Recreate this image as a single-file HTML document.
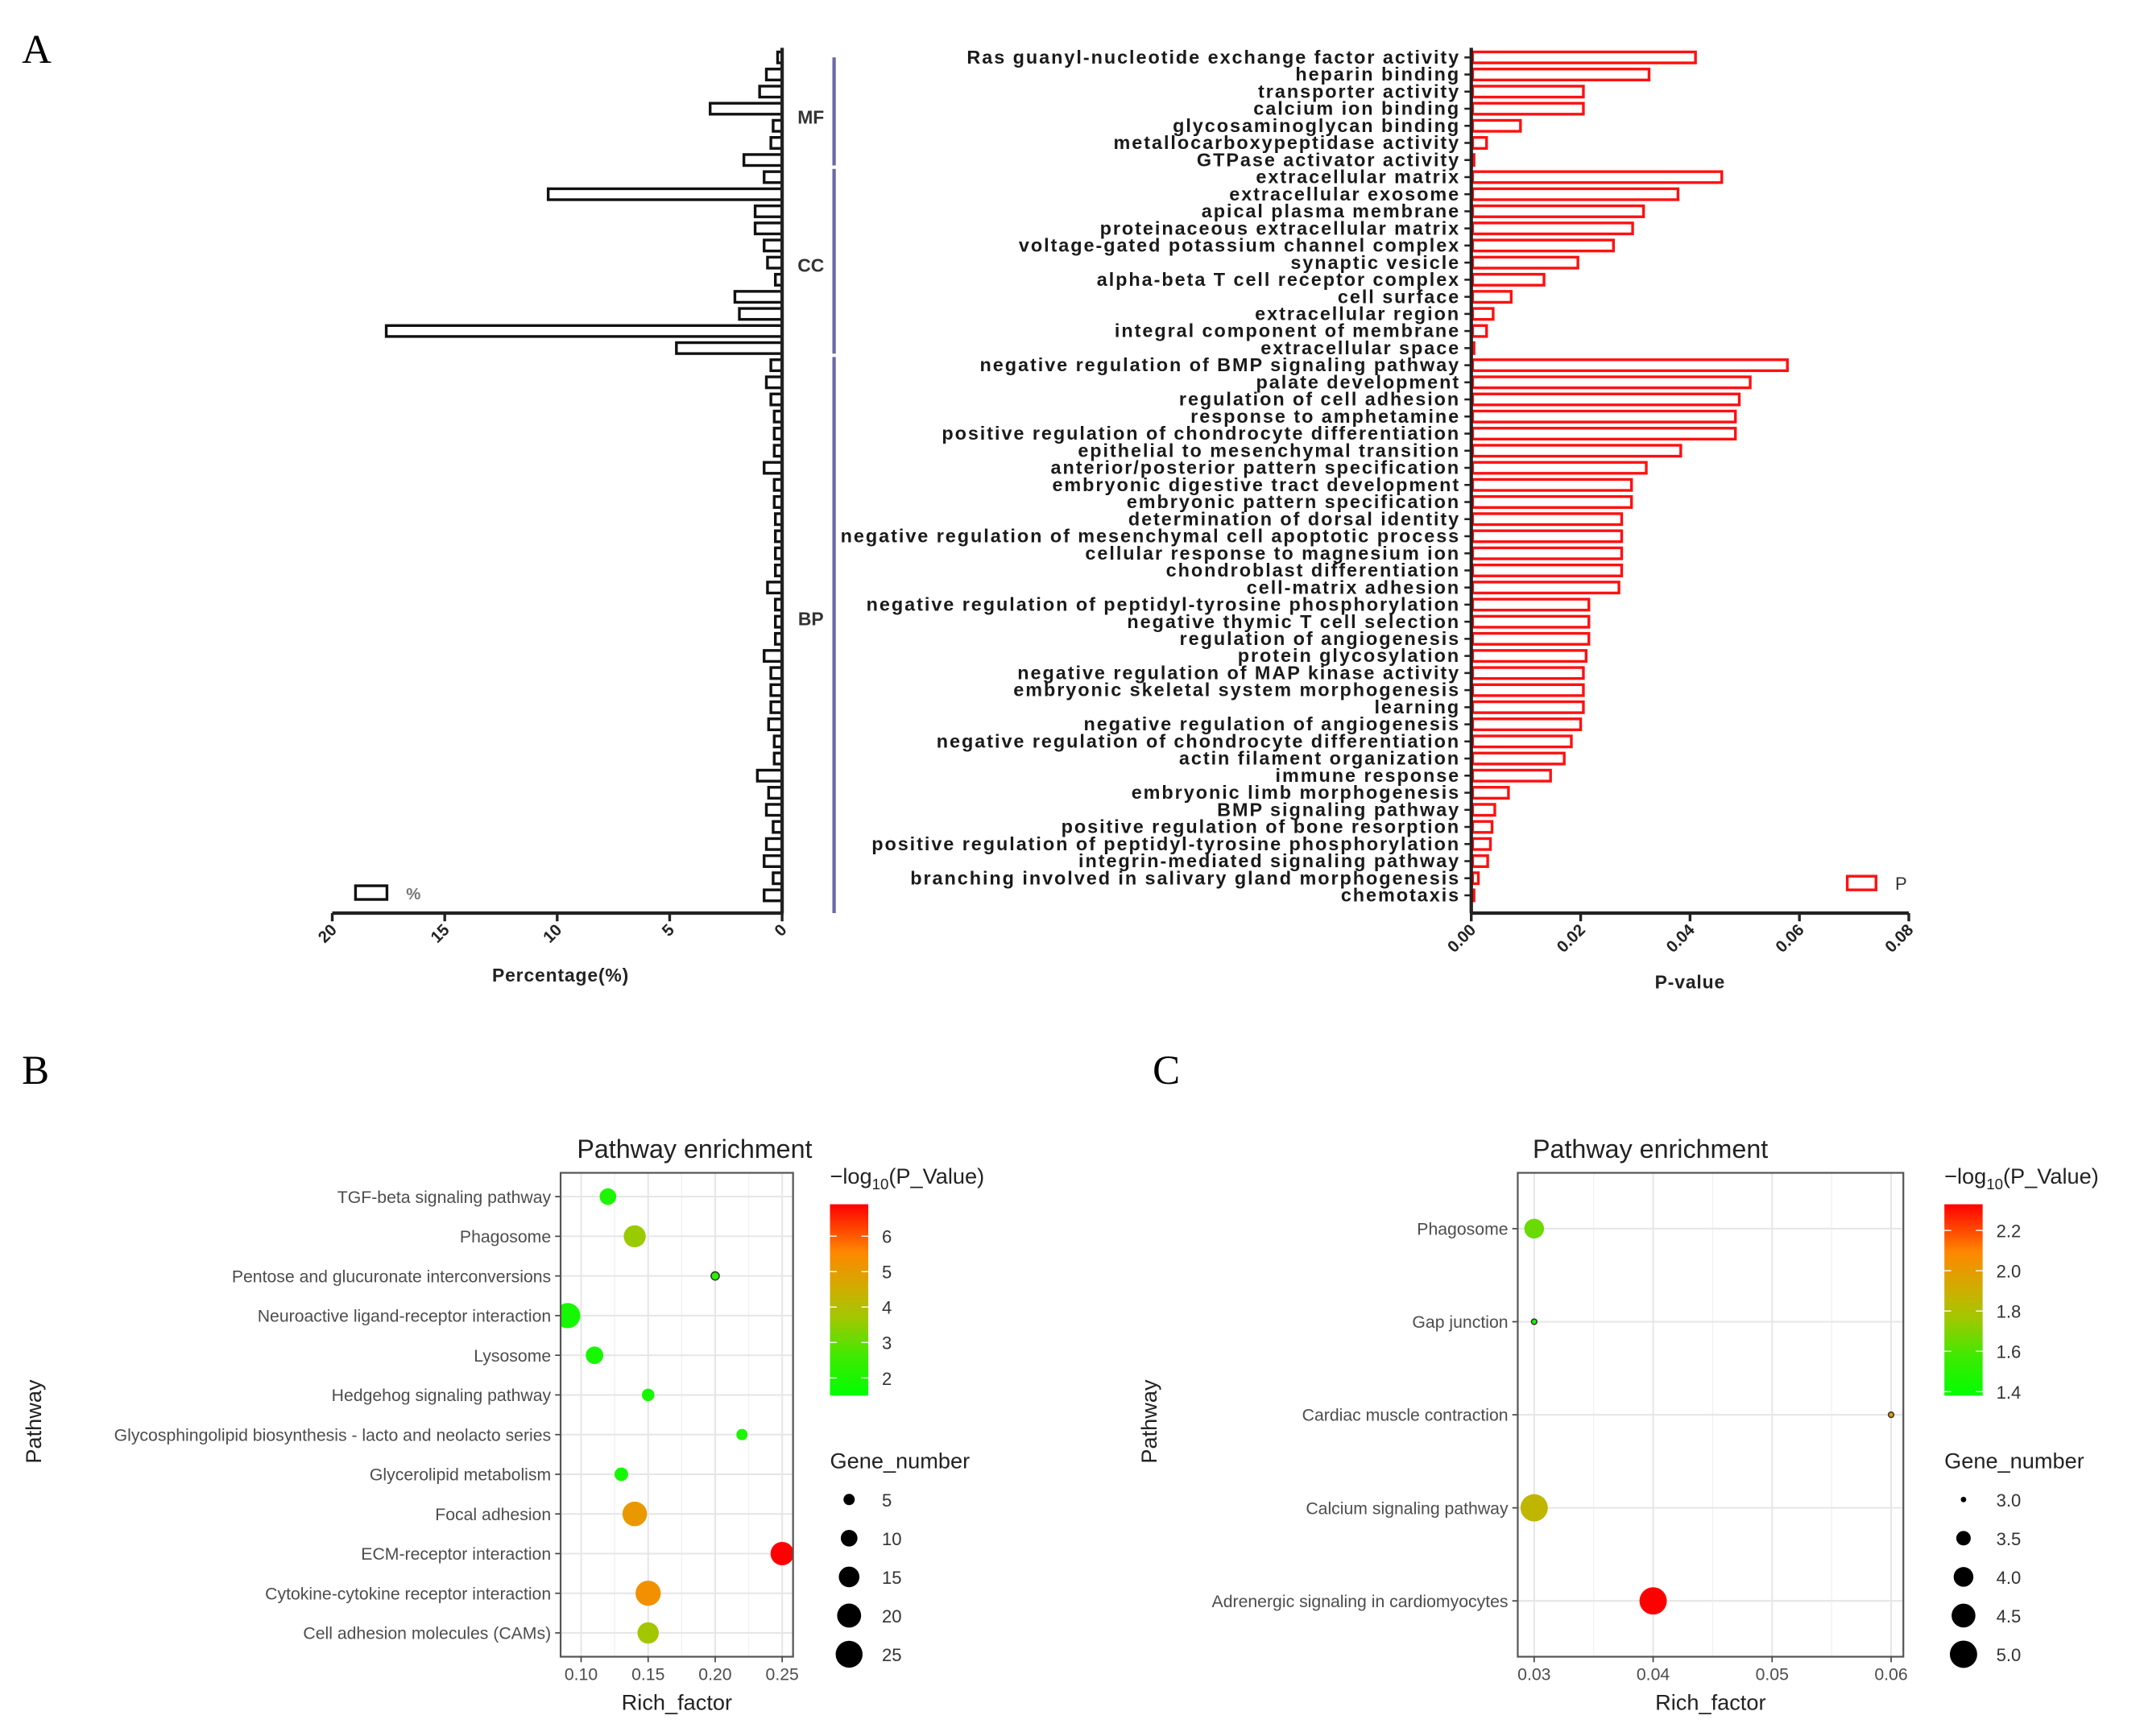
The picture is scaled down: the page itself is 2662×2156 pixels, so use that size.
<!DOCTYPE html>
<html><head><meta charset="utf-8"><style>
html,body{margin:0;padding:0;background:#fff}
svg{display:block}
</style></head><body>
<svg id="fig" xmlns="http://www.w3.org/2000/svg" width="2662" height="2156" viewBox="0 0 1568 1270" preserveAspectRatio="none" font-family="Liberation Sans, Arial, sans-serif">
<rect width="1568" height="1270" fill="#fff"/>
<text x="16" y="46" font-family="Liberation Serif, serif" font-size="30">A</text>
<text x="16" y="793" font-family="Liberation Serif, serif" font-size="30">B</text>
<text x="843" y="793" font-family="Liberation Serif, serif" font-size="30">C</text>
<g id="gA"></g><g id="gB"></g><g id="gC"></g>
</svg>
<script>
// ===== Panel A data =====
const goTerms = ["Ras guanyl-nucleotide exchange factor activity","heparin binding","transporter activity","calcium ion binding","glycosaminoglycan binding","metallocarboxypeptidase activity","GTPase activator activity","extracellular matrix","extracellular exosome","apical plasma membrane","proteinaceous extracellular matrix","voltage-gated potassium channel complex","synaptic vesicle","alpha-beta T cell receptor complex","cell surface","extracellular region","integral component of membrane","extracellular space","negative regulation of BMP signaling pathway","palate development","regulation of cell adhesion","response to amphetamine","positive regulation of chondrocyte differentiation","epithelial to mesenchymal transition","anterior/posterior pattern specification","embryonic digestive tract development","embryonic pattern specification","determination of dorsal identity","negative regulation of mesenchymal cell apoptotic process","cellular response to magnesium ion","chondroblast differentiation","cell-matrix adhesion","negative regulation of peptidyl-tyrosine phosphorylation","negative thymic T cell selection","regulation of angiogenesis","protein glycosylation","negative regulation of MAP kinase activity","embryonic skeletal system morphogenesis","learning","negative regulation of angiogenesis","negative regulation of chondrocyte differentiation","actin filament organization","immune response","embryonic limb morphogenesis","BMP signaling pathway","positive regulation of bone resorption","positive regulation of peptidyl-tyrosine phosphorylation","integrin-mediated signaling pathway","branching involved in salivary gland morphogenesis","chemotaxis"];
const goPct = [0.2,0.7,1.0,3.2,0.4,0.5,1.7,0.8,10.4,1.2,1.2,0.8,0.65,0.3,2.1,1.9,17.6,4.7,0.5,0.7,0.5,0.35,0.35,0.35,0.8,0.35,0.35,0.3,0.3,0.3,0.3,0.65,0.3,0.3,0.3,0.8,0.5,0.5,0.5,0.6,0.35,0.35,1.1,0.6,0.7,0.4,0.7,0.8,0.4,0.8];
const goP = [0.041,0.0325,0.0205,0.0205,0.009,0.0028,0.0003,0.0458,0.0378,0.0315,0.0295,0.026,0.0195,0.0133,0.0073,0.004,0.0028,0.0003,0.0578,0.051,0.049,0.0483,0.0483,0.0383,0.032,0.0293,0.0293,0.0275,0.0275,0.0275,0.0275,0.027,0.0215,0.0215,0.0215,0.021,0.0205,0.0205,0.0205,0.02,0.0183,0.017,0.0145,0.0068,0.0043,0.0038,0.0035,0.003,0.0013,0.0003];
const pctTicks = [20,15,10,5,0];
const pTicks = [0,0.02,0.04,0.06,0.08];
const pTickLabels = ["0.00","0.02","0.04","0.06","0.08"];
const groups = ["MF","CC","BP"];
const groupSizes = [7,11,32];

// ===== Panel B data =====
const bPathways = ["TGF-beta signaling pathway","Phagosome","Pentose and glucuronate interconversions","Neuroactive ligand-receptor interaction","Lysosome","Hedgehog signaling pathway","Glycosphingolipid biosynthesis - lacto and neolacto series","Glycerolipid metabolism","Focal adhesion","ECM-receptor interaction","Cytokine-cytokine receptor interaction","Cell adhesion molecules (CAMs)"];
const bRich = [0.12,0.14,0.20,0.09,0.11,0.15,0.22,0.13,0.14,0.25,0.15,0.15];
const bGenes = [10,17,3,22,11,6,5,7,21,19,22,16];
const bLogP = [2.0,3.6,2.2,1.9,1.9,1.9,2.0,1.9,5.1,6.9,5.3,3.7];
const bXTicks = [0.10,0.15,0.20,0.25];
const bColorTicks = [2,3,4,5,6];
const bSizeTicks = [5,10,15,20,25];

// ===== Panel C data =====
const cPathways = ["Phagosome","Gap junction","Cardiac muscle contraction","Calcium signaling pathway","Adrenergic signaling in cardiomyocytes"];
const cRich = [0.03,0.03,0.06,0.03,0.04];
const cGenes = [4,3,3,5,5];
const cLogP = [1.66,1.42,2.0,1.86,2.33];
const cXTicks = [0.03,0.04,0.05,0.06];
const cColorTicks = [1.4,1.6,1.8,2.0,2.2];
const cSizeTicks = [3.0,3.5,4.0,4.5,5.0];

const NS='http://www.w3.org/2000/svg';
function mk(parent,tag,attrs,text){const e=document.createElementNS(NS,tag);for(const k in attrs)e.setAttribute(k,attrs[k]);if(text!==undefined)e.textContent=text;parent.appendChild(e);return e;}

// ---------- Panel A ----------
(function(){
  const g=document.getElementById('gA');
  const y0=42, dy=(655-42)/49, axY=668;
  const rowY=i=>y0+i*dy;
  const xL=v=>572-v*(572-243)/20;
  const xP=v=>1076+v*(1396-1076)/0.08;
  const bh=8;
  goPct.forEach((v,i)=>{
    const r=mk(g,'rect',{x:xL(v),y:rowY(i)-bh/2,width:Math.max(xL(0)-xL(v),1.5),height:bh,fill:'#fff',stroke:'#111','stroke-width':2});
    
    
  });
  mk(g,'line',{x1:572,y1:35,x2:572,y2:axY,stroke:'#222','stroke-width':2.5});
  mk(g,'line',{x1:243,y1:axY,x2:573,y2:axY,stroke:'#222','stroke-width':2.5});
  pctTicks.forEach(t=>{
    mk(g,'line',{x1:xL(t),y1:axY,x2:xL(t),y2:axY+6,stroke:'#222','stroke-width':2});
    const tx=mk(g,'text',{x:xL(t)+4,y:axY+13,'font-size':12,'font-weight':'bold','text-anchor':'end',fill:'#222',transform:`rotate(-45 ${xL(t)+4} ${axY+13})`},String(t));
    
    
  });
  const lt=mk(g,'text',{x:410,y:718,'font-size':13.5,'font-weight':'bold','text-anchor':'middle',fill:'#222','letter-spacing':0.5},'Percentage(%)');
  
  const lr=mk(g,'rect',{x:260,y:648,width:23,height:10,fill:'#fff',stroke:'#111','stroke-width':2});
  
  const ll=mk(g,'text',{x:297,y:658,'font-size':12,fill:'#777','font-weight':'bold'},'%');
  
  const labelFrac=[0.55,0.52,0.47];
  let start=0;
  groups.forEach((name,gi)=>{
    const n=groupSizes[gi];
    const ya=rowY(start)-(gi===0?0:6), yb=(gi===groups.length-1)?axY:rowY(start+n-1)+4;
    const ln=mk(g,'line',{x1:610,y1:ya,x2:610,y2:yb,stroke:'#6a6aa8','stroke-width':2.5});
    
    const tx=mk(g,'text',{x:593,y:ya+(yb-ya)*labelFrac[gi]+5,'font-size':13.5,'font-weight':'bold','text-anchor':'middle',fill:'#333'},name);
    
    start+=n;
  });
  const clip=mk(g,'clipPath',{id:'clipA'});mk(clip,'rect',{x:614,y:0,width:800,height:700});
  const lab=mk(g,'g',{'clip-path':'url(#clipA)'});
  goTerms.forEach((t,i)=>{
    const tx=mk(lab,'text',{x:1068,y:rowY(i)+4.5,'font-size':13.8,'font-weight':'bold','text-anchor':'end',fill:'#1a1a1a','letter-spacing':1.15},t);
    
    mk(g,'line',{x1:1071,y1:rowY(i),x2:1076,y2:rowY(i),stroke:'#222','stroke-width':1.5});
  });
  goP.forEach((v,i)=>{
    const r=mk(g,'rect',{x:1077,y:rowY(i)-bh/2,width:Math.max(xP(v)-1077,1),height:bh,fill:'#fff',stroke:'#ff1010','stroke-width':2});
    
  });
  mk(g,'line',{x1:1076,y1:35,x2:1076,y2:axY,stroke:'#222','stroke-width':2.5});
  mk(g,'line',{x1:1075,y1:axY,x2:1396,y2:axY,stroke:'#222','stroke-width':2.5});
  pTicks.forEach((t,i)=>{
    mk(g,'line',{x1:xP(t),y1:axY,x2:xP(t),y2:axY+6,stroke:'#222','stroke-width':2});
    const tx=mk(g,'text',{x:xP(t)+4,y:axY+13,'font-size':12,'font-weight':'bold','text-anchor':'end',fill:'#222',transform:`rotate(-45 ${xP(t)+4} ${axY+13})`},pTickLabels[i]);
    
  });
  const pt=mk(g,'text',{x:1236,y:723,'font-size':13.5,'font-weight':'bold','text-anchor':'middle',fill:'#222','letter-spacing':0.5},'P-value');
  
  const pr=mk(g,'rect',{x:1351,y:641,width:21,height:10,fill:'#fff',stroke:'#ff1010','stroke-width':2});
  
  const pl=mk(g,'text',{x:1386,y:651,'font-size':13,fill:'#333'},'P');
  
})();

const stops=[[0,[0,255,0]],[0.2,[60,235,0]],[0.4,[160,200,0]],[0.55,[205,175,0]],[0.75,[255,135,0]],[1,[255,0,0]]];
function grad(t){t=Math.max(0,Math.min(1,t));for(let i=1;i<stops.length;i++){if(t<=stops[i][0]){const a=stops[i-1],b=stops[i];const f=(t-a[0])/(b[0]-a[0]);const c=a[1].map((v,k)=>Math.round(v+(b[1][k]-v)*f));return `rgb(${c})`;}}return 'rgb(255,0,0)';}

function bubble(gid,cfg){
  const g=document.getElementById(gid);
  const {px0,px1,py0,py1,xmin,xmax,cats,rich,genes,logp,xticks,xfmt,cmin,cmax,cticks,cfmt,sizeTicks,sizeFmt,rad,legX,title,titleX,ylabX,prefix}=cfg;
  const sx=v=>px0+(v-xmin)/(xmax-xmin)*(px1-px0);
  const n=cats.length;
  const sy=i=>py0+(py1-py0)*(i+0.6)/(n+0.2);
  mk(g,'rect',{x:px0,y:py0,width:px1-px0,height:py1-py0,fill:'#fff'});
  for(let i=0;i<xticks.length-1;i++){const m=(xticks[i]+xticks[i+1])/2;mk(g,'line',{x1:sx(m),y1:py0,x2:sx(m),y2:py1,stroke:'#f2f2f2','stroke-width':0.8});}
  const step=xticks[1]-xticks[0];
  [xticks[0]-step/2,xticks[xticks.length-1]+step/2].forEach(m=>{if(sx(m)>px0&&sx(m)<px1)mk(g,'line',{x1:sx(m),y1:py0,x2:sx(m),y2:py1,stroke:'#f2f2f2','stroke-width':0.8});});
  xticks.forEach(t=>{mk(g,'line',{x1:sx(t),y1:py0,x2:sx(t),y2:py1,stroke:'#e6e6e6','stroke-width':1.2});});
  cats.forEach((c,i)=>{
    mk(g,'line',{x1:px0,y1:sy(i),x2:px1,y2:sy(i),stroke:'#e6e6e6','stroke-width':1.2});
    mk(g,'line',{x1:px0-4,y1:sy(i),x2:px0,y2:sy(i),stroke:'#444','stroke-width':1});
    const tx=mk(g,'text',{x:px0-7,y:sy(i)+4.5,'font-size':12.5,'text-anchor':'end',fill:'#4d4d4d'},c);
    
  });
  const cl=mk(g,'clipPath',{id:'clip'+gid});mk(cl,'rect',{x:px0,y:py0,width:px1-px0,height:py1-py0});
  const pg=mk(g,'g',{'clip-path':`url(#clip${gid})`});
  const gmin=Math.min(...genes);
  rich.forEach((v,i)=>{
    const r=rad(genes[i]);
    const col=grad((logp[i]-cmin)/(cmax-cmin));
    const small=genes[i]===gmin;
    const c=mk(pg,'circle',{cx:sx(v),cy:sy(i),r:r,fill:col,stroke:small?'#333':'none','stroke-width':small?0.9:0});
    
  });
  mk(g,'rect',{x:px0,y:py0,width:px1-px0,height:py1-py0,fill:'none',stroke:'#555','stroke-width':1.3});
  xticks.forEach(t=>{
    mk(g,'line',{x1:sx(t),y1:py1,x2:sx(t),y2:py1+4,stroke:'#444','stroke-width':1});
    const tx=mk(g,'text',{x:sx(t),y:py1+17,'font-size':12.5,'text-anchor':'middle',fill:'#4d4d4d'},xfmt(t));
    
  });
  const xt=mk(g,'text',{x:(px0+px1)/2,y:py1+39,'font-size':16,'text-anchor':'middle',fill:'#222'},'Rich_factor');
  
  const yt=mk(g,'text',{x:ylabX,y:(py0+py1)/2+5,'font-size':16,'text-anchor':'middle',fill:'#222',transform:`rotate(-90 ${ylabX} ${(py0+py1)/2+5})`},'Pathway');
  
  const tt=mk(g,'text',{x:titleX,y:py0-11,'font-size':19,'text-anchor':'middle',fill:'#222'},title);
  
  const lt=mk(g,'text',{x:legX,y:866,'font-size':16,fill:'#222'});
  
  lt.innerHTML='−log<tspan font-size="11" dy="4">10</tspan><tspan dy="-4">(P_Value)</tspan>';
  const cbTop=881,cbBot=1021,cbW=28;
  const gradId='cg'+gid;
  const lg=mk(g,'linearGradient',{id:gradId,x1:0,y1:1,x2:0,y2:0});
  stops.forEach(s=>mk(lg,'stop',{offset:s[0],'stop-color':`rgb(${s[1]})`}));
  const cb=mk(g,'rect',{x:legX,y:cbTop,width:cbW,height:cbBot-cbTop,fill:`url(#${gradId})`});
  
  const cy=v=>cbBot-(v-cmin)/(cmax-cmin)*(cbBot-cbTop);
  cticks.forEach(t=>{
    mk(g,'line',{x1:legX,y1:cy(t),x2:legX+5,y2:cy(t),stroke:'#fff','stroke-width':0.8});
    mk(g,'line',{x1:legX+cbW-5,y1:cy(t),x2:legX+cbW,y2:cy(t),stroke:'#fff','stroke-width':0.8});
    const tx=mk(g,'text',{x:legX+38,y:cy(t)+5,'font-size':13,fill:'#333'},cfmt(t));
    
  });
  const st=mk(g,'text',{x:legX,y:1074,'font-size':16,fill:'#222'},'Gene_number');
  
  sizeTicks.forEach((s,i)=>{
    const yy=1097+i*28.3;
    const c=mk(g,'circle',{cx:legX+14,cy:yy,r:rad(s),fill:'#000'});
    
    const tx=mk(g,'text',{x:legX+38,y:yy+5,'font-size':13,fill:'#333'},sizeFmt(s));
    
  });
}

bubble('gB',{px0:410,px1:580,py0:858,py1:1212,xmin:0.0847,xmax:0.2581,cats:bPathways,rich:bRich,genes:bGenes,logp:bLogP,xticks:bXTicks,xfmt:t=>t.toFixed(2),cmin:1.5,cmax:6.9,cticks:bColorTicks,cfmt:t=>String(t),sizeTicks:bSizeTicks,sizeFmt:s=>String(s),rad:n=>Math.sqrt(9+4.0*(n-3)),legX:607,title:'Pathway enrichment',titleX:508,ylabX:30,prefix:'b'});
bubble('gC',{px0:1110,px1:1392,py0:858,py1:1212,xmin:0.02862,xmax:0.06103,cats:cPathways,rich:cRich,genes:cGenes,logp:cLogP,xticks:cXTicks,xfmt:t=>t.toFixed(2),cmin:1.38,cmax:2.33,cticks:cColorTicks,cfmt:t=>t.toFixed(1),sizeTicks:cSizeTicks,sizeFmt:s=>s.toFixed(1),rad:n=>Math.sqrt(4+48*(n-3)),legX:1422,title:'Pathway enrichment',titleX:1207,ylabX:846,prefix:'c'});
</script>
</body></html>
